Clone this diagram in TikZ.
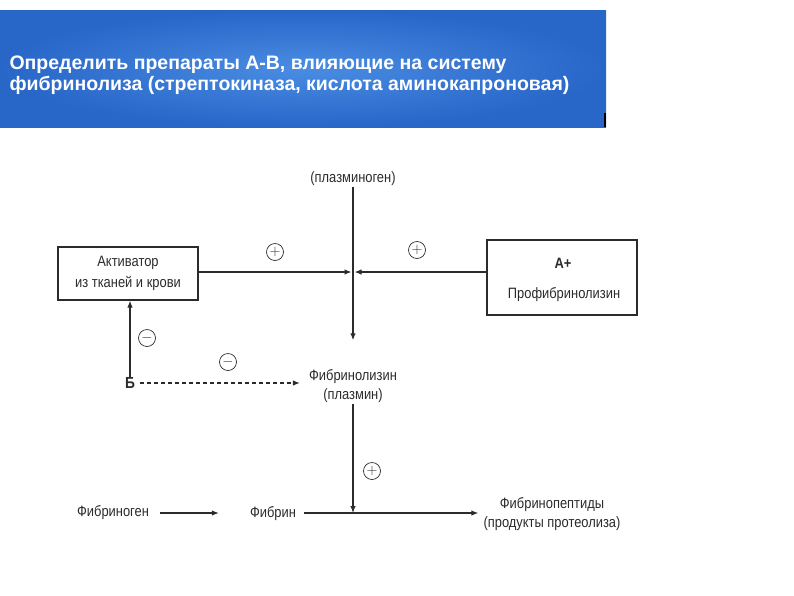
\documentclass[tikz,border=0pt]{standalone}
\usepackage{fontspec}
\setmainfont{Liberation Sans}
\newfontfamily\narrowfont[FakeStretch=0.86]{Liberation Sans}
\usetikzlibrary{arrows.meta, positioning}
\definecolor{bannerblue}{HTML}{2866C8}
\definecolor{bannerlight}{HTML}{4A8CE2}
\definecolor{inkgrey}{HTML}{2B2B2B}

\begin{document}
\begin{tikzpicture}[x=1pt, y=-1pt, font=\narrowfont\fontsize{15}{18}\selectfont, inkgrey,
  box/.style={rectangle, draw=inkgrey, line width=1.2pt, inner sep=0pt, align=center},
  lbl/.style={inner sep=1pt, align=center},
  sgn/.style={circle, draw=inkgrey, line width=0.7pt, minimum size=17pt, inner sep=0pt,
              font=\fontsize{14}{14}\selectfont},
  a/.style={-{Latex[length=7pt, width=5.5pt]}, line width=1.2pt, inkgrey},
  l/.style={line width=1.2pt, inkgrey}]
\useasboundingbox (0,0) rectangle (794,595);
% banner
\shade[inner color=bannerlight, outer color=bannerblue] (0,10) rectangle (606,127);
\draw[black, line width=1.5pt] (605,113) -- (605,127);
\node[anchor=west, align=left, white, font=\fontsize{19.5}{21}\selectfont\bfseries] (title) at (6,75)
  {Определить препараты А-В, влияющие на систему\\фибринолиза (стрептокиназа, кислота аминокапроновая)};
% nodes
\node[lbl] (plg) at (353,179) {(плазминоген)};
\node[box, minimum width=140pt, minimum height=53pt] (act) at (128,273.5) {Активатор\\[3pt]из тканей и крови};
\node[box, minimum width=150pt, minimum height=75pt] (pro) at (562,277.5) {};
\node[lbl, font=\narrowfont\fontsize{15}{18}\selectfont\bfseries] (aplus) at (563,263) {А+};
\node[lbl] (prof) at (564,295) {Профибринолизин};
\node[lbl, font=\narrowfont\fontsize{16}{18}\selectfont\bfseries] (b) at (130,383) {Б};
\node[lbl] (fbl) at (353,386) {Фибринолизин\\[1pt](плазмин)};
\node[lbl] (fbg) at (113,513) {Фибриноген};
\node[lbl] (fbn) at (273,514) {Фибрин};
\node[lbl] (fpp) at (552,514) {Фибринопептиды\\[1pt](продукты протеолиза)};
\coordinate (jx) at (353,272);
\coordinate (jy) at (353,513);
% signs
\node[sgn] (s1) at (275,252) {$+$};
\node[sgn] (s2) at (417,250) {$+$};
\node[sgn] (s3) at (147,338) {$-$};
\node[sgn] (s4) at (228,362) {$-$};
\node[sgn] (s5) at (372,471) {$+$};
% connectors
\draw[l] (plg.south) -- (jx);
\draw[a] (jx) -- ([yshift=28pt]fbl.north);
\draw[a] (act.east |- jx) -- ([xshift=-1.5pt]jx);
\draw[a] (pro.west |- jx) -- ([xshift=1.5pt]jx);
\draw[a] ([yshift=-1pt]b.north) -- (b.north |- act.south);
\draw[a, dash pattern=on 4pt off 3pt] ([xshift=4pt]b.east) -- ([xshift=-8pt]fbl.west |- b);
\draw[a] (fbl.south) -- (jy);
\draw[a] ([xshift=10pt]fbg.east |- jy) -- ([xshift=-30pt]fbn.west |- jy);
\draw[a] ([xshift=7pt]fbn.east |- jy) -- ([xshift=-4pt]fpp.west |- jy);
\end{tikzpicture}
\end{document}
